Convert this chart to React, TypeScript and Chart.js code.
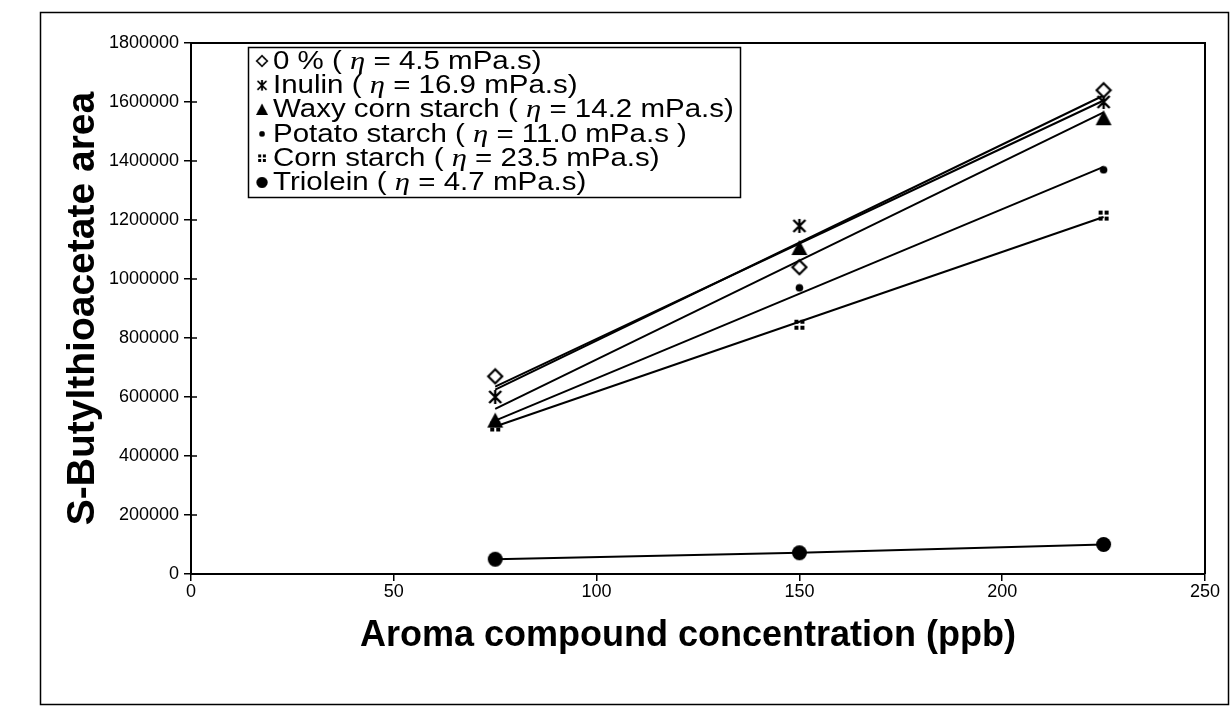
import React, { useEffect, useRef } from 'react';
import { Chart, registerables } from 'chart.js';

Chart.register(...registerables);

// ---- data ----
const concentrations = [75, 150, 225];
const zeroPct = [670000, 1040000, 1640000];
const inulin = [600000, 1180000, 1600000];
const waxyCorn = [520000, 1105000, 1545000];
const potato = [515000, 970000, 1370000];
const cornStarch = [500000, 845000, 1215000];
const triolein = [50000, 72000, 100000];

// trend lines (end points)
const trendX = [75, 225];
const zeroTrend = [635000, 1605000];
const inulinTrend = [625000, 1622000];
const waxyTrend = [560000, 1565000];
const potatoTrend = [520000, 1380000];
const cornTrend = [500000, 1210000];

const xTicks = [0, 50, 100, 150, 200, 250];
const yTicks = [0, 200000, 400000, 600000, 800000, 1000000, 1200000, 1400000, 1600000, 1800000];

const legendPrefix = ['0 % ( ', 'Inulin ( ', 'Waxy corn starch ( ', 'Potato starch ( ', 'Corn starch ( ', 'Triolein ( '];
const legendSuffix = [' = 4.5 mPa.s)', ' = 16.9 mPa.s)', ' = 14.2 mPa.s)', ' = 11.0 mPa.s )', ' = 23.5 mPa.s)', ' = 4.7 mPa.s)'];

const xTitle = 'Aroma compound concentration (ppb)\u00a0\u00a0';
const yTitle = 'S-Butylthioacetate area';

function makeCanvas(w: number, h: number, draw: (c: CanvasRenderingContext2D) => void) {
  const cv = document.createElement('canvas');
  cv.width = w;
  cv.height = h;
  const c = cv.getContext('2d')!;
  c.fillStyle = '#000';
  c.strokeStyle = '#000';
  draw(c);
  return cv;
}

function makeMarkers() {
  const diamond = makeCanvas(18, 18, (c) => {
    c.beginPath();
    c.moveTo(9, 2); c.lineTo(16, 9); c.lineTo(9, 16); c.lineTo(2, 9); c.closePath();
    c.fillStyle = '#fff'; c.fill();
    c.lineWidth = 2.2; c.stroke();
  });
  const star = makeCanvas(18, 18, (c) => {
    c.lineWidth = 2.4;
    c.beginPath();
    c.moveTo(3, 3); c.lineTo(15, 15);
    c.moveTo(15, 3); c.lineTo(3, 15);
    c.moveTo(9, 2); c.lineTo(9, 16);
    c.stroke();
  });
  const triangle = makeCanvas(18, 18, (c) => {
    c.beginPath();
    c.moveTo(9, 1); c.lineTo(17, 16); c.lineTo(1, 16); c.closePath();
    c.fill();
  });
  const smallDot = makeCanvas(9, 9, (c) => {
    c.beginPath(); c.arc(4.5, 4.5, 3.8, 0, Math.PI * 2); c.fill();
  });
  const squares = makeCanvas(12, 12, (c) => {
    c.fillRect(1, 1, 4, 4); c.fillRect(7, 1, 4, 4);
    c.fillRect(1, 7, 4, 4); c.fillRect(7, 7, 4, 4);
  });
  const bigDot = makeCanvas(17, 17, (c) => {
    c.beginPath(); c.arc(8.5, 8.5, 7.5, 0, Math.PI * 2); c.fill();
  });
  return [diamond, star, triangle, smallDot, squares, bigDot];
}

const pts = (ys: number[], xs: number[] = concentrations) => xs.map((x, i) => ({ x, y: ys[i] }));

export default function App() {
  const ref = useRef<HTMLCanvasElement | null>(null);

  useEffect(() => {
    document.body.style.margin = '0';
    const canvas = ref.current;
    if (!canvas) return;
    const markers = makeMarkers();

    const decor = {
      id: 'decor',
      beforeDraw(chart: any) {
        const { ctx, width, height } = chart;
        ctx.save();
        ctx.fillStyle = '#fff';
        ctx.fillRect(0, 0, width, height);
        ctx.restore();
      },
      afterDraw(chart: any) {
        const { ctx, chartArea: ca } = chart;
        ctx.save();
        ctx.strokeStyle = '#000';
        // outer frame
        ctx.lineWidth = 1.5;
        ctx.strokeRect(40.5, 12.5, 1188, 692);
        // top and right plot border
        ctx.lineWidth = 2;
        ctx.beginPath();
        ctx.moveTo(ca.left, ca.top);
        ctx.lineTo(ca.right, ca.top);
        ctx.lineTo(ca.right, ca.bottom);
        ctx.stroke();
        // inner half of y ticks
        const ys = chart.scales.y;
        ctx.lineWidth = 1.5;
        ys.ticks.forEach((t: any) => {
          const py = ys.getPixelForValue(t.value);
          ctx.beginPath();
          ctx.moveTo(ca.left, py);
          ctx.lineTo(ca.left + 6, py);
          ctx.stroke();
        });
        // legend
        const bx = 248, by = 47, bw = 492, bh = 150;
        ctx.fillStyle = '#fff';
        ctx.fillRect(bx, by, bw, bh);
        ctx.lineWidth = 1.5;
        ctx.strokeRect(bx + 0.5, by + 0.5, bw, bh);
        const sx = 1.18;
        const font = '25px "Liberation Sans", Arial, sans-serif';
        const etaFont = 'italic 26px "Liberation Serif", "DejaVu Serif", serif';
        ctx.fillStyle = '#000';
        ctx.textBaseline = 'middle';
        ctx.textAlign = 'left';
        for (let i = 0; i < legendPrefix.length; i++) {
          const ry = by + 14 + i * 24.3;
          const m = markers[i];
          const s = 0.75;
          ctx.drawImage(m, 262 - (m.width * s) / 2, ry - (m.height * s) / 2, m.width * s, m.height * s);
          ctx.save();
          ctx.translate(273, ry + 1);
          ctx.scale(sx, 1);
          let cx = 0;
          ctx.font = font;
          ctx.fillText(legendPrefix[i], cx, 0);
          cx += ctx.measureText(legendPrefix[i]).width;
          ctx.font = etaFont;
          ctx.fillText('η', cx, 0);
          cx += ctx.measureText('η').width;
          ctx.font = font;
          ctx.fillText(legendSuffix[i], cx, 0);
          ctx.restore();
        }
        ctx.restore();
      },
    };

    const pointSet = (data: number[], style: HTMLCanvasElement) => ({
      data: pts(data),
      showLine: false,
      pointStyle: style,
      pointRadius: 8,
      borderColor: '#000',
      backgroundColor: '#000',
    });
    const trendSet = (data: number[]) => ({
      data: pts(data, trendX),
      showLine: true,
      pointRadius: 0,
      borderColor: '#000',
      borderWidth: 2,
      backgroundColor: '#000',
    });

    const axisGrid = {
      display: true,
      drawOnChartArea: false,
      drawTicks: true,
      tickLength: 7,
      color: '#000',
      lineWidth: 1.5,
    };

    const chart = new Chart(canvas, {
      type: 'scatter',
      data: {
        datasets: [
          pointSet(zeroPct, markers[0]),
          pointSet(inulin, markers[1]),
          pointSet(waxyCorn, markers[2]),
          pointSet(potato, markers[3]),
          pointSet(cornStarch, markers[4]),
          {
            data: pts(triolein),
            showLine: true,
            pointStyle: markers[5],
            pointRadius: 8,
            borderColor: '#000',
            borderWidth: 2,
            backgroundColor: '#000',
          },
          trendSet(zeroTrend),
          trendSet(inulinTrend),
          trendSet(waxyTrend),
          trendSet(potatoTrend),
          trendSet(cornTrend),
        ] as any,
      },
      options: {
        animation: false,
        responsive: true,
        maintainAspectRatio: false,
        events: [],
        layout: { padding: { top: 43, right: 26, left: 0, bottom: 0 } },
        plugins: {
          legend: { display: false },
          tooltip: { enabled: false },
        },
        scales: {
          x: {
            type: 'linear',
            min: 0,
            max: 250,
            afterBuildTicks: (s: any) => { s.ticks = xTicks.map((v) => ({ value: v })); },
            afterFit: (s: any) => { s.height = 137; },
            ticks: {
              color: '#000',
              padding: 0,
              font: { family: '"Liberation Sans", Arial, sans-serif', size: 18 },
              callback: (v: any) => String(v),
            },
            grid: axisGrid,
            border: { display: true, color: '#000', width: 2 },
            title: {
              display: true,
              text: xTitle,
              color: '#000',
              font: { family: '"Liberation Sans", Arial, sans-serif', size: 36, weight: 'bold' },
              padding: { top: 0, bottom: 53 },
            },
          },
          y: {
            type: 'linear',
            min: 0,
            max: 1800000,
            afterBuildTicks: (s: any) => { s.ticks = yTicks.map((v) => ({ value: v })); },
            afterFit: (s: any) => { s.width = 191; },
            ticks: {
              color: '#000',
              padding: 5,
              font: { family: '"Liberation Sans", Arial, sans-serif', size: 18 },
              callback: (v: any) => String(v),
            },
            grid: axisGrid,
            border: { display: true, color: '#000', width: 2 },
            title: {
              display: true,
              text: yTitle,
              color: '#000',
              font: { family: '"Liberation Sans", Arial, sans-serif', size: 39, weight: 'bold' },
              padding: { top: 60, bottom: 0 },
            },
          },
        },
      } as any,
      plugins: [decor],
    });

    return () => chart.destroy();
  }, []);

  return (
    <div style={{ position: 'relative', width: 1231, height: 711, overflow: 'hidden' }}>
      <canvas ref={ref} style={{ display: 'block' }} />
    </div>
  );
}
